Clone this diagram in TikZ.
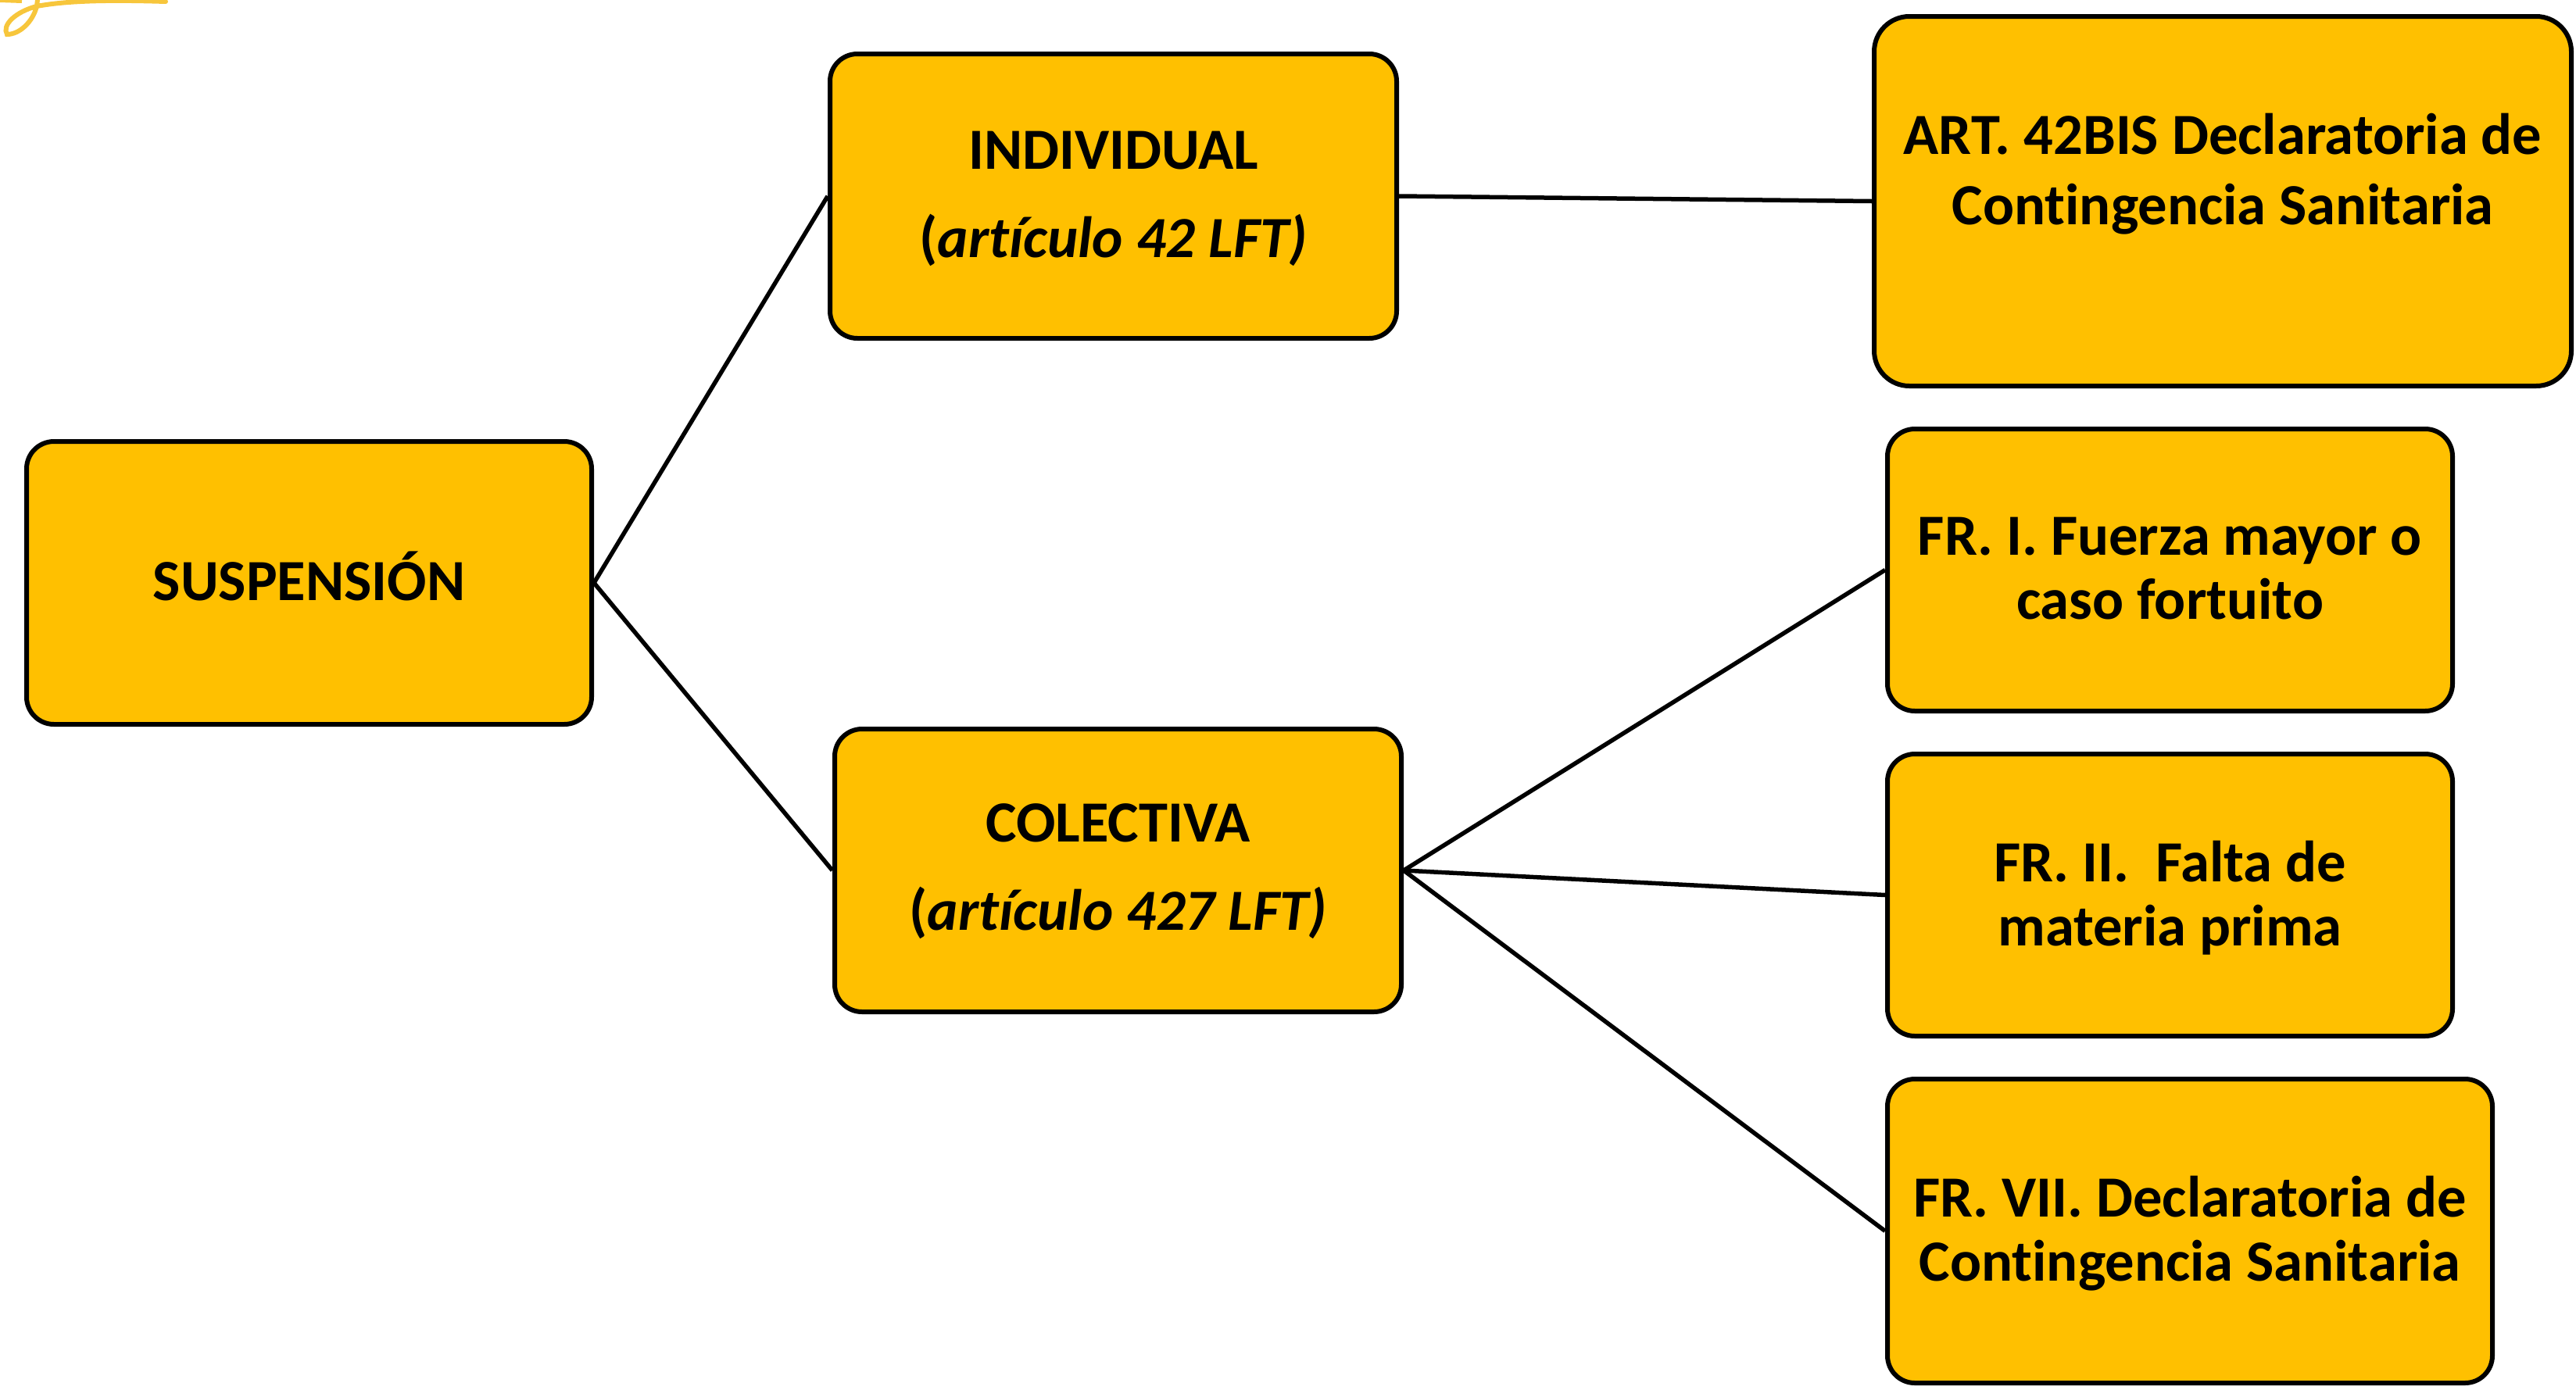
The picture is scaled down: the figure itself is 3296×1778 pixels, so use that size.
\documentclass[tikz,border=0pt]{standalone}
\usepackage{fontspec}
\setmainfont{Carlito}[Ligatures=NoCommon]
\definecolor{boxfill}{HTML}{FFC000}
\definecolor{swirl}{HTML}{F7C63C}
\tikzset{
  boxnode/.style={draw=black,fill=boxfill,line width=6pt,rounded corners=35pt,inner sep=0pt,align=center,font=\fontsize{74.6}{82}\selectfont\bfseries},
  wh/.style 2 args={minimum width=#1pt,minimum height=#2pt},
  link/.style={draw=black,line width=5.5pt},
}
\newcommand{\tall}[1]{\rule{0pt}{#1pt}}
\begin{document}
\begin{tikzpicture}[x=1pt,y=-1pt]
\useasboundingbox (0,0) rectangle (3296,1778);
\coordinate (sw1) at (212,2);
\coordinate (sw2) at (47,8);
\coordinate (sw3) at (9,44);
\coordinate (sw4) at (48,0);
\draw[swirl,line width=6pt,line cap=round] (sw1) .. controls (150,0) and (90,0) .. (sw2) .. controls (20,15) and (2,32) .. (sw3) .. controls (25,44) and (42,28) .. (sw2) -- (sw4);
\draw[swirl,line width=6pt] (0,0) -- (28,1);
\node[boxnode,wh={723}{362}] (s) at (395.5,746) {\raisebox{18pt}{SUSPENSIÓN}};
\node[boxnode,wh={725}{364}] (i) at (1424.5,251) {\tall{56}INDIVIDUAL\\[31pt](\textit{artículo 42 LFT)}};
\node[boxnode,rounded corners=45pt,wh={892}{473}] (a) at (2844,257.5) {\tall{59}ART. 42BIS Declaratoria de\\[8pt]Contingencia Sanitaria\\[8pt]\mbox{}};
\node[boxnode,wh={725}{362}] (c) at (1430.5,1114) {\tall{52}COLECTIVA\\[31pt](\textit{artículo 427 LFT)}};
\node[boxnode,wh={723}{361}] (f1) at (2776.5,729.5) {FR. I. Fuerza mayor o\\caso fortuito\rule[-4pt]{0pt}{4pt}};
\node[boxnode,wh={723}{361}] (f2) at (2776.5,1145.5) {\tall{59}FR. II.\ \ Falta de\\materia prima};
\node[boxnode,wh={774}{389}] (f7) at (2802,1575.5) {\tall{59}FR. VII. Declaratoria de\\Contingencia Sanitaria};
\draw[link] (s.east) -- (i.west);
\draw[link] (s.east) -- (c.west);
\draw[link] (i.east) -- (a.west);
\draw[link] (c.east) -- (f1.west);
\draw[link] (c.east) -- (f2.west);
\draw[link] (c.east) -- (f7.west);
\end{tikzpicture}
\end{document}
